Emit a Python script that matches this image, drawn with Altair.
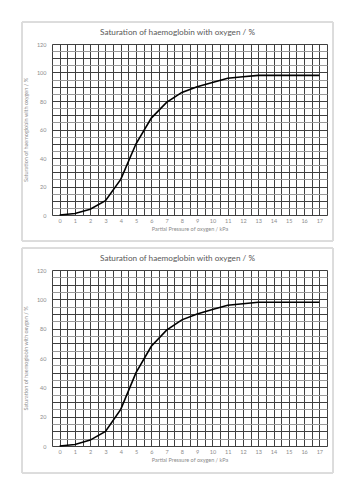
import altair as alt
import pandas as pd

pressure = list(range(0, 18))
saturation = [0, 1, 4, 10, 25, 50, 68, 79, 86, 90, 93, 96, 97, 98, 98, 98, 98, 98]
y_labels = [0, 20, 40, 60, 80, 100, 120]

title_text = "Saturation of haemoglobin with oxygen / %"
x_title = "Partial Pressure of oxygen / kPa"
y_title = "Saturation of haemoglobin with oxygen / %"

df = pd.DataFrame({"p": pressure, "s": saturation})
tdf = pd.DataFrame({"t": [title_text]})

FONT = "Lato"
grid_y_color = {"condition": {"test": "datum.value % 10 === 0", "value": "#404040"}, "value": "#9a9a9a"}


def make_chart(h, box_bottom):
    xv = [v / 2 for v in range(-1, 36)]
    yv = list(range(0, 121, 5))
    border = alt.Chart(df).mark_rect(fillOpacity=0, stroke="#dcdcdc", strokeWidth=1, clip=False).encode(
        x=alt.value(-30), x2=alt.value(281), y=alt.value(-22), y2=alt.value(h + box_bottom)
    )
    title = alt.Chart(tdf).mark_text(font=FONT, fontSize=8.2, color="#595959", align="center",
                                     baseline="middle", clip=False).encode(
        text="t:N", x=alt.value(125.5), y=alt.value(-11)
    )
    line = alt.Chart(df).mark_line(color="black", strokeWidth=1.6, interpolate="linear").encode(
        x=alt.X("p:Q", scale=alt.Scale(domain=[-0.5, 17.5], nice=False, zero=False),
                axis=alt.Axis(values=xv, title=x_title, grid=True, gridColor="#404040", gridWidth=1,
                              gridOpacity=1, ticks=False, domain=False, labelOverlap=False,
                              labelExpr="datum.value % 1 === 0 ? format(datum.value, 'd') : ''",
                              labelFont=FONT, labelFontSize=5.5, labelColor="#8c8c8c", labelPadding=3,
                              titleFont=FONT, titleFontSize=5.5, titleColor="#8c8c8c",
                              titleFontWeight="normal", titlePadding=3)),
        y=alt.Y("s:Q", scale=alt.Scale(domain=[0, 120], nice=False),
                axis=alt.Axis(values=yv, title=y_title, grid=True, gridColor=grid_y_color, gridWidth=1,
                              gridOpacity=1, ticks=False, domain=False, labelOverlap=False,
                              labelExpr="datum.value % 20 === 0 ? format(datum.value, 'd') : ''",
                              labelFont=FONT, labelFontSize=5.5, labelColor="#8c8c8c", labelPadding=6,
                              titleFont=FONT, titleFontSize=5.5, titleColor="#8c8c8c",
                              titleFontWeight="normal", titlePadding=8)),
    )
    return alt.layer(border, title, line).properties(width=275, height=h)


c1 = make_chart(171, 26)
c2 = make_chart(176, 27)

chart = alt.vconcat(c1, c2, spacing=5).properties(
    padding={"left": 21, "top": 21, "right": 0, "bottom": 0}
).configure_view(stroke="#404040", strokeWidth=1).configure(background="white")

chart.save("out.html", embed_options={"renderer": "svg", "actions": False})
